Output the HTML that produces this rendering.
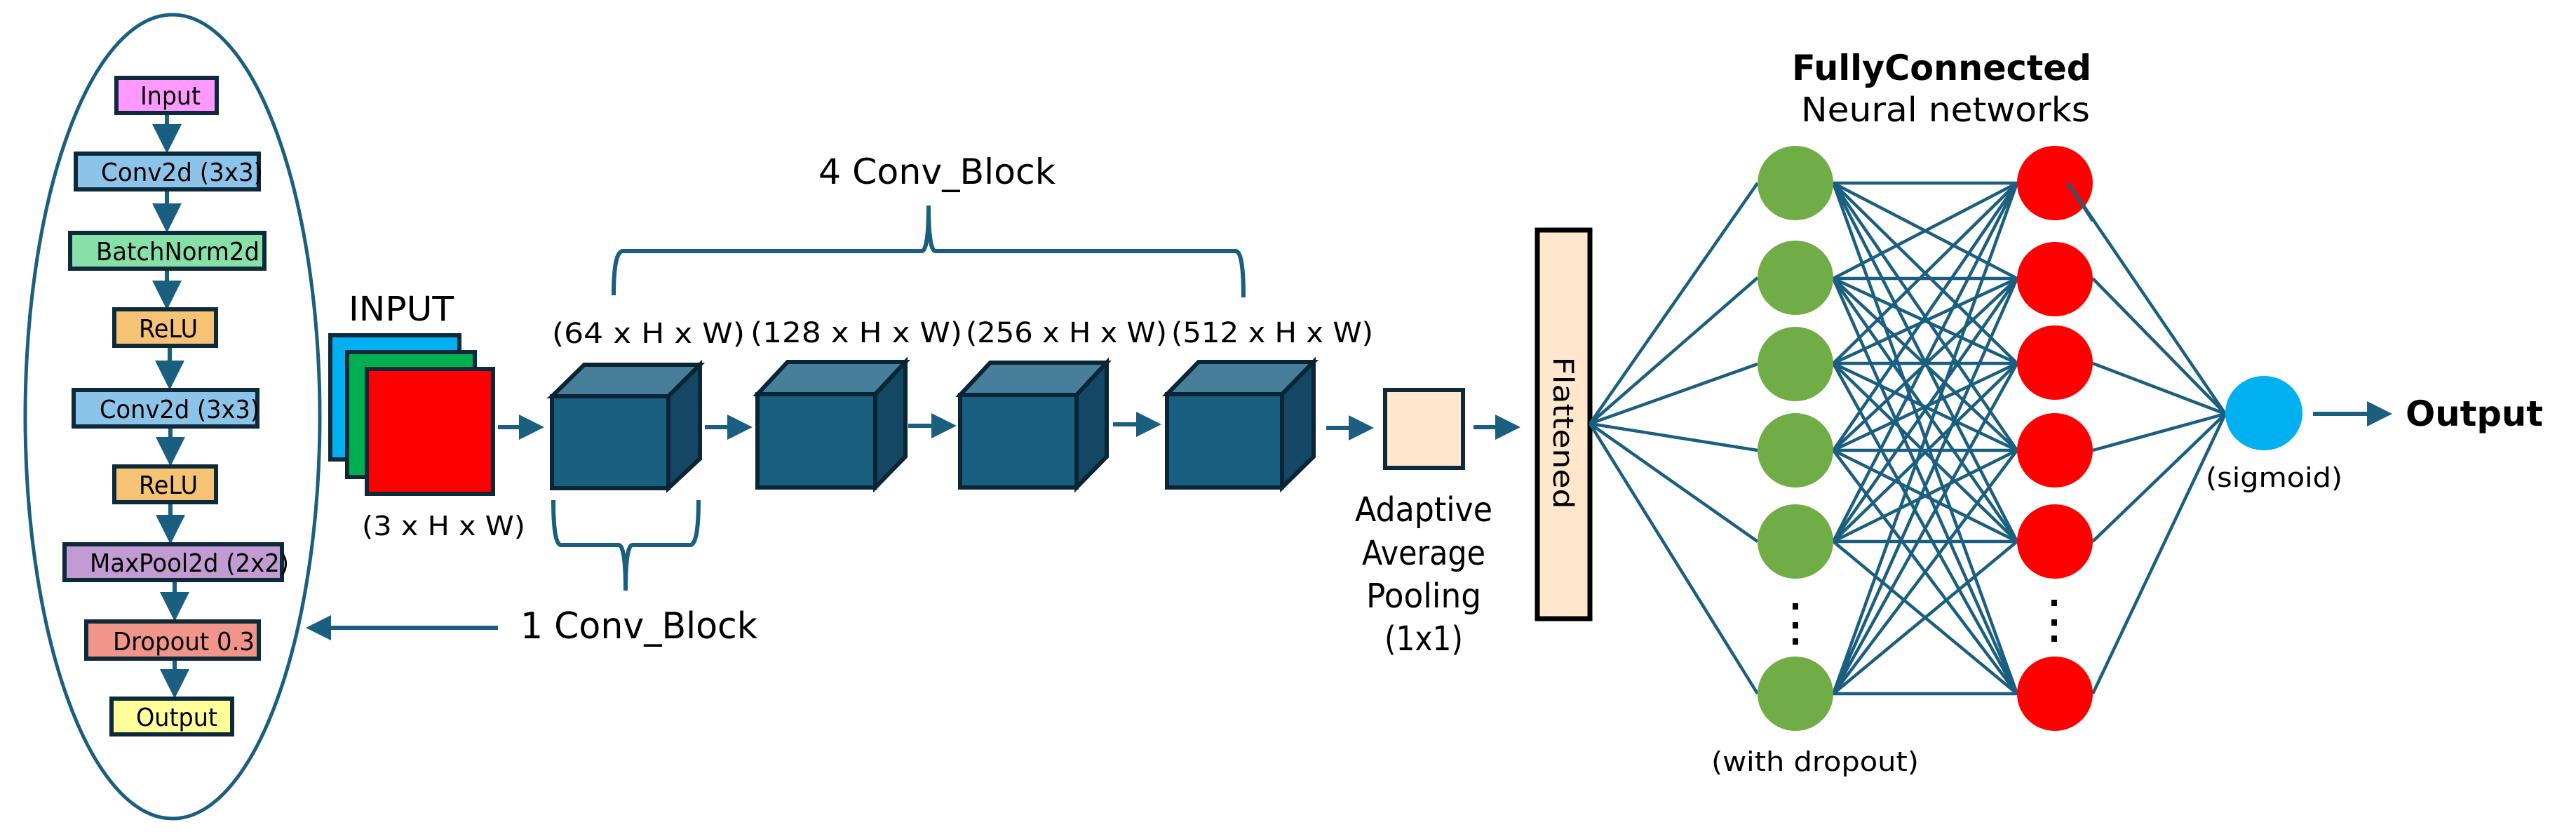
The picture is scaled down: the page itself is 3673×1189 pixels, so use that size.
<!DOCTYPE html>
<html><head><meta charset="utf-8"><style>
html,body{margin:0;padding:0;background:#fff;}
svg{display:block;}
text{font-family:"DejaVu Sans","Liberation Sans",sans-serif;fill:#000;}
</style></head><body>
<svg width="3673" height="1189" viewBox="0 0 3673 1189" xmlns="http://www.w3.org/2000/svg">
<defs>
<marker id="ah" markerWidth="6" markerHeight="6" refX="5" refY="3" orient="auto" markerUnits="strokeWidth">
<path d="M0,0 L6,3 L0,6 z" fill="#1a5e80"/>
</marker>
<marker id="ah2" markerWidth="7" markerHeight="7" refX="6" refY="3.5" orient="auto" markerUnits="strokeWidth">
<path d="M0,0 L7,3.5 L0,7 z" fill="#1a5e80"/>
</marker>
</defs>
<ellipse cx="246" cy="594" rx="210" ry="573" fill="none" stroke="#1a5e80" stroke-width="5"/>
<g stroke="#1a5e80" stroke-width="6" marker-end="url(#ah2)">
<line x1="238" y1="161" x2="238" y2="213"/>
<line x1="238" y1="270" x2="238" y2="326"/>
<line x1="238" y1="383" x2="238" y2="436"/>
<line x1="242" y1="493" x2="242" y2="550"/>
<line x1="243" y1="608" x2="243" y2="659"/>
<line x1="243" y1="716" x2="243" y2="770"/>
<line x1="249" y1="827" x2="249" y2="880"/>
<line x1="249" y1="939" x2="249" y2="990"/>
</g>
<g stroke="#0d2a3a" stroke-width="6">
<rect x="166" y="111" width="143" height="50" fill="#ff99ff"/>
<rect x="108" y="219" width="261" height="51" fill="#8cc3e8"/>
<rect x="100" y="332" width="277" height="51" fill="#86e0a8"/>
<rect x="163" y="441" width="145" height="52" fill="#f6c374"/>
<rect x="105" y="556" width="262" height="52" fill="#8cc3e8"/>
<rect x="163" y="665" width="145" height="51" fill="#f6c374"/>
<rect x="92" y="776" width="310" height="51" fill="#c39bd3"/>
<rect x="123" y="886" width="246" height="53" fill="#f1948a"/>
<rect x="159" y="996" width="172" height="51" fill="#ffff99"/>
</g>
<g font-size="36">
<text x="200" y="149" textLength="86" lengthAdjust="spacingAndGlyphs">Input</text>
<text x="144" y="258" textLength="231" lengthAdjust="spacingAndGlyphs">Conv2d (3x3)</text>
<text x="137" y="371" textLength="233" lengthAdjust="spacingAndGlyphs">BatchNorm2d</text>
<text x="198" y="481" textLength="84" lengthAdjust="spacingAndGlyphs">ReLU</text>
<text x="142" y="596" textLength="228" lengthAdjust="spacingAndGlyphs">Conv2d (3x3)</text>
<text x="198" y="704" textLength="84" lengthAdjust="spacingAndGlyphs">ReLU</text>
<text x="128" y="815" textLength="284" lengthAdjust="spacingAndGlyphs">MaxPool2d (2x2)</text>
<text x="161" y="927" textLength="202" lengthAdjust="spacingAndGlyphs">Dropout 0.3</text>
<text x="194" y="1035" textLength="116" lengthAdjust="spacingAndGlyphs">Output</text>
</g>
<text x="497" y="457" font-size="48" textLength="150" lengthAdjust="spacingAndGlyphs">INPUT</text>
<g stroke="#0d2a3a" stroke-width="6">
<rect x="471" y="478" width="184" height="177" fill="#00b0f0"/>
<rect x="495" y="502" width="182" height="178" fill="#00b050"/>
<rect x="523" y="526" width="180" height="178" fill="#ff0000"/>
</g>
<text x="516" y="763" font-size="38" textLength="233" lengthAdjust="spacingAndGlyphs">(3 x H x W)</text>
<g stroke="#1a5e80" stroke-width="6" marker-end="url(#ah)">
<line x1="710" y1="609" x2="770" y2="609"/>
<line x1="1005" y1="609" x2="1067" y2="609"/>
<line x1="1295" y1="607" x2="1358" y2="607"/>
<line x1="1587" y1="605" x2="1650" y2="605"/>
<line x1="1891" y1="610" x2="1953" y2="610"/>
<line x1="2101" y1="609" x2="2162" y2="609"/>
<line x1="3298" y1="590" x2="3405" y2="590"/>
<line x1="710" y1="895" x2="442" y2="895"/>
</g>
<g stroke="#0a2535" stroke-width="6" stroke-linejoin="miter">
<g>
<polygon points="787,565 833,520 998,520 953,565" fill="#477f9b"/>
<polygon points="953,565 998,520 998,654 953,696" fill="#134764"/>
<rect x="787" y="565" width="166" height="131" fill="#185f80"/>
</g>
<g>
<polygon points="1080,562 1123,516 1291,516 1248,562" fill="#477f9b"/>
<polygon points="1248,562 1291,516 1291,651 1248,695" fill="#134764"/>
<rect x="1080" y="562" width="168" height="133" fill="#185f80"/>
</g>
<g>
<polygon points="1369,563 1412,517 1578,517 1535,563" fill="#477f9b"/>
<polygon points="1535,563 1578,517 1578,651 1535,695" fill="#134764"/>
<rect x="1369" y="563" width="166" height="132" fill="#185f80"/>
</g>
<g>
<polygon points="1664,562 1709,516 1873,516 1828,562" fill="#477f9b"/>
<polygon points="1828,562 1873,516 1873,651 1828,695" fill="#134764"/>
<rect x="1664" y="562" width="164" height="133" fill="#185f80"/>
</g>
</g>
<g font-size="40">
<text x="787" y="489" textLength="275" lengthAdjust="spacingAndGlyphs">(64 x  H x W)</text>
<text x="1070" y="488" textLength="302" lengthAdjust="spacingAndGlyphs">(128 x  H x W)</text>
<text x="1377" y="488" textLength="287" lengthAdjust="spacingAndGlyphs">(256 x H x W)</text>
<text x="1670" y="488" textLength="288" lengthAdjust="spacingAndGlyphs">(512 x H x W)</text>
</g>
<g fill="none" stroke="#1a5e80" stroke-width="6">
<path d="M789,713 Q789,777 800,777 L882,777 Q892,777 892,842 Q892,777 902,777 L984,777 Q996,777 996,713"/>
<path d="M875,421 Q875,358 888,358 L1314,358 Q1324,358 1324,293 Q1324,358 1334,358 L1762,358 Q1773,358 1773,424"/>
</g>
<text x="1167" y="262" font-size="50" textLength="338" lengthAdjust="spacingAndGlyphs">4 Conv_Block</text>
<text x="742" y="910" font-size="52" textLength="338" lengthAdjust="spacingAndGlyphs">1 Conv_Block</text>
<rect x="1975" y="556" width="111" height="111" fill="#ffe6cc" stroke="#0d2a3a" stroke-width="6"/>
<g font-size="48" text-anchor="middle">
<text x="2030" y="743" textLength="196" lengthAdjust="spacingAndGlyphs">Adaptive</text>
<text x="2030" y="805" textLength="176" lengthAdjust="spacingAndGlyphs">Average</text>
<text x="2030" y="866" textLength="164" lengthAdjust="spacingAndGlyphs">Pooling</text>
<text x="2030" y="927" textLength="112" lengthAdjust="spacingAndGlyphs">(1x1)</text>
</g>
<rect x="2192" y="328" width="75" height="554" fill="#ffe6cc" stroke="#000" stroke-width="7"/>
<text transform="translate(2215,617) rotate(90)" font-size="40" text-anchor="middle" textLength="217" lengthAdjust="spacingAndGlyphs">Flattened</text>
<g stroke="#1a5e80" stroke-width="4.5">
<line x1="2267" y1="604" x2="2506" y2="261"/>
<line x1="2267" y1="604" x2="2506" y2="396"/>
<line x1="2267" y1="604" x2="2506" y2="519"/>
<line x1="2267" y1="604" x2="2506" y2="642"/>
<line x1="2267" y1="604" x2="2506" y2="772"/>
<line x1="2267" y1="604" x2="2506" y2="989"/>
<line x1="2614" y1="261" x2="2876" y2="261"/><line x1="2614" y1="261" x2="2876" y2="397"/><line x1="2614" y1="261" x2="2876" y2="518"/><line x1="2614" y1="261" x2="2876" y2="642"/><line x1="2614" y1="261" x2="2876" y2="772"/><line x1="2614" y1="261" x2="2876" y2="989"/>
<line x1="2614" y1="397" x2="2876" y2="261"/><line x1="2614" y1="397" x2="2876" y2="397"/><line x1="2614" y1="397" x2="2876" y2="518"/><line x1="2614" y1="397" x2="2876" y2="642"/><line x1="2614" y1="397" x2="2876" y2="772"/><line x1="2614" y1="397" x2="2876" y2="989"/>
<line x1="2614" y1="518" x2="2876" y2="261"/><line x1="2614" y1="518" x2="2876" y2="397"/><line x1="2614" y1="518" x2="2876" y2="518"/><line x1="2614" y1="518" x2="2876" y2="642"/><line x1="2614" y1="518" x2="2876" y2="772"/><line x1="2614" y1="518" x2="2876" y2="989"/>
<line x1="2614" y1="642" x2="2876" y2="261"/><line x1="2614" y1="642" x2="2876" y2="397"/><line x1="2614" y1="642" x2="2876" y2="518"/><line x1="2614" y1="642" x2="2876" y2="642"/><line x1="2614" y1="642" x2="2876" y2="772"/><line x1="2614" y1="642" x2="2876" y2="989"/>
<line x1="2614" y1="772" x2="2876" y2="261"/><line x1="2614" y1="772" x2="2876" y2="397"/><line x1="2614" y1="772" x2="2876" y2="518"/><line x1="2614" y1="772" x2="2876" y2="642"/><line x1="2614" y1="772" x2="2876" y2="772"/><line x1="2614" y1="772" x2="2876" y2="989"/>
<line x1="2614" y1="989" x2="2876" y2="261"/><line x1="2614" y1="989" x2="2876" y2="397"/><line x1="2614" y1="989" x2="2876" y2="518"/><line x1="2614" y1="989" x2="2876" y2="642"/><line x1="2614" y1="989" x2="2876" y2="772"/><line x1="2614" y1="989" x2="2876" y2="989"/>
<line x1="2949" y1="261" x2="3173" y2="590"/>
<line x1="2984" y1="397" x2="3173" y2="590"/>
<line x1="2984" y1="518" x2="3173" y2="590"/>
<line x1="2984" y1="642" x2="3173" y2="590"/>
<line x1="2984" y1="772" x2="3173" y2="590"/>
<line x1="2984" y1="989" x2="3173" y2="590"/>
</g>
<g fill="#70ad47">
<ellipse cx="2560" cy="261" rx="54" ry="53"/>
<ellipse cx="2560" cy="396" rx="54" ry="53"/>
<ellipse cx="2560" cy="519" rx="54" ry="53"/>
<ellipse cx="2560" cy="642" rx="54" ry="53"/>
<ellipse cx="2560" cy="772" rx="54" ry="53"/>
<ellipse cx="2560" cy="989" rx="54" ry="53"/>
</g>
<g fill="#ff0000">
<ellipse cx="2930" cy="261" rx="54" ry="53"/>
<ellipse cx="2930" cy="398" rx="54" ry="53"/>
<ellipse cx="2930" cy="517" rx="54" ry="53"/>
<ellipse cx="2930" cy="642" rx="54" ry="53"/>
<ellipse cx="2930" cy="772" rx="54" ry="53"/>
<ellipse cx="2930" cy="989" rx="54" ry="53"/>
</g>
<line x1="2949" y1="261" x2="2984" y2="315" stroke="#1a5e80" stroke-width="4.5"/>
<g fill="#000">
<rect x="2556" y="860" width="8" height="9"/><rect x="2556" y="887" width="8" height="9"/><rect x="2556" y="910" width="8" height="9"/>
<rect x="2925" y="855" width="8" height="9"/><rect x="2925" y="883" width="8" height="9"/><rect x="2925" y="906" width="8" height="9"/>
</g>
<ellipse cx="3228" cy="589" rx="55" ry="53" fill="#00b0f0"/>
<text x="3430" y="607" font-size="50" font-weight="bold" textLength="196" lengthAdjust="spacingAndGlyphs">Output</text>
<text x="3145" y="694" font-size="38" textLength="195" lengthAdjust="spacingAndGlyphs">(sigmoid)</text>
<text x="2440" y="1099" font-size="38" textLength="296" lengthAdjust="spacingAndGlyphs">(with dropout)</text>
<text x="2555" y="114" font-size="50" font-weight="bold" textLength="427" lengthAdjust="spacingAndGlyphs">FullyConnected</text>
<text x="2568" y="173" font-size="48" textLength="412" lengthAdjust="spacingAndGlyphs">Neural networks</text>
</svg>
</body></html>
